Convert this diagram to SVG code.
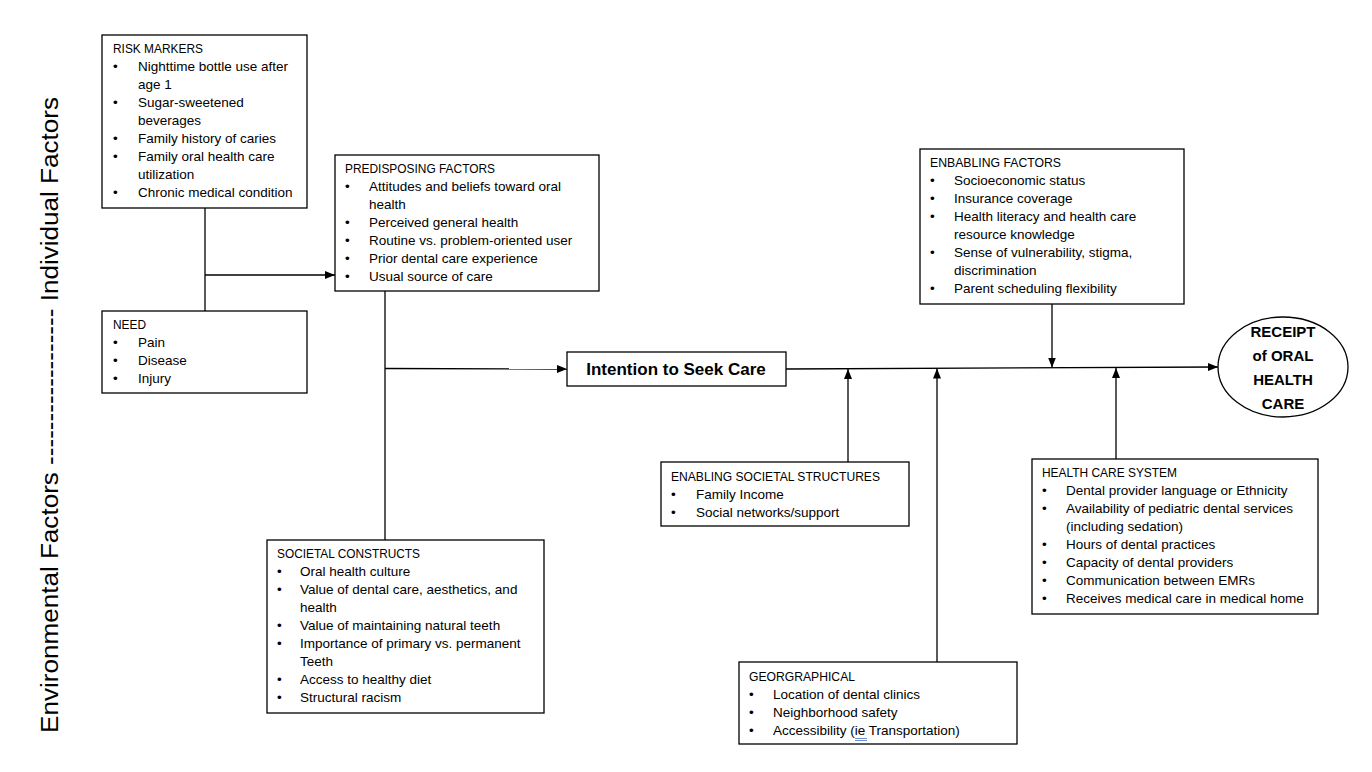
<svg xmlns="http://www.w3.org/2000/svg" width="1372" height="772" viewBox="0 0 1372 772">
<style>
.box{fill:#fff;stroke:#000;stroke-width:1.3}
.t{font-family:"Liberation Sans",Arial,sans-serif;font-size:13.5px;fill:#000}
.b{font-family:"Liberation Sans",Arial,sans-serif;font-weight:bold;fill:#000}
.ln{stroke:#000;stroke-width:1.3;fill:none}
</style>
<defs>
<marker id="ah" markerWidth="10" markerHeight="8" refX="10" refY="4" orient="auto" markerUnits="userSpaceOnUse">
<path d="M0,0 L10,4 L0,8 Z" fill="#000"/>
</marker>
</defs>
<rect width="1372" height="772" fill="#fff"/>

<g id="side-label">
<text transform="translate(58,733) rotate(-90)" font-family="'Liberation Sans',Arial,sans-serif" font-size="23" textLength="636" lengthAdjust="spacingAndGlyphs">Environmental Factors ------------------ Individual Factors</text>
</g>

<g id="connectors">
<line class="ln" x1="205" y1="208" x2="205" y2="311"/>
<line class="ln" x1="205" y1="275" x2="335" y2="275" marker-end="url(#ah)"/>
<line class="ln" x1="385" y1="291" x2="385" y2="540"/>
<line class="ln" x1="385" y1="368.5" x2="567" y2="369" marker-end="url(#ah)"/>
<line class="ln" x1="786" y1="369" x2="1218" y2="367" marker-end="url(#ah)"/>
<line class="ln" x1="848" y1="462" x2="848" y2="369" marker-end="url(#ah)"/>
<line class="ln" x1="937" y1="662" x2="937" y2="368.5" marker-end="url(#ah)"/>
<line class="ln" x1="1116" y1="459" x2="1116" y2="368" marker-end="url(#ah)"/>
<line class="ln" x1="1052" y1="304" x2="1052" y2="367.5" marker-end="url(#ah)"/>
</g>

<g id="risk-markers">
<rect class="box" x="102" y="35" width="205" height="173"/>
<text class="t" x="113" y="53" textLength="90" lengthAdjust="spacingAndGlyphs">RISK MARKERS</text>
<text class="t" x="113" y="71">•</text><text class="t" x="138" y="71">Nighttime bottle use after</text>
<text class="t" x="138" y="89">age 1</text>
<text class="t" x="113" y="107">•</text><text class="t" x="138" y="107">Sugar-sweetened</text>
<text class="t" x="138" y="125">beverages</text>
<text class="t" x="113" y="143">•</text><text class="t" x="138" y="143">Family history of caries</text>
<text class="t" x="113" y="161">•</text><text class="t" x="138" y="161">Family oral health care</text>
<text class="t" x="138" y="179">utilization</text>
<text class="t" x="113" y="197">•</text><text class="t" x="138" y="197">Chronic medical condition</text>
</g>

<g id="need">
<rect class="box" x="102" y="311" width="205" height="82"/>
<text class="t" x="113" y="329" textLength="33" lengthAdjust="spacingAndGlyphs">NEED</text>
<text class="t" x="113" y="347">•</text><text class="t" x="138" y="347">Pain</text>
<text class="t" x="113" y="365">•</text><text class="t" x="138" y="365">Disease</text>
<text class="t" x="113" y="383">•</text><text class="t" x="138" y="383">Injury</text>
</g>

<g id="predisposing">
<rect class="box" x="335" y="155" width="264" height="136"/>
<text class="t" x="345" y="173" textLength="150" lengthAdjust="spacingAndGlyphs">PREDISPOSING FACTORS</text>
<text class="t" x="345" y="191">•</text><text class="t" x="369" y="191">Attitudes and beliefs toward oral</text>
<text class="t" x="369" y="209">health</text>
<text class="t" x="345" y="227">•</text><text class="t" x="369" y="227">Perceived general health</text>
<text class="t" x="345" y="245">•</text><text class="t" x="369" y="245">Routine vs. problem-oriented user</text>
<text class="t" x="345" y="263">•</text><text class="t" x="369" y="263">Prior dental care experience</text>
<text class="t" x="345" y="281">•</text><text class="t" x="369" y="281">Usual source of care</text>
</g>

<g id="intention">
<rect class="box" x="567" y="352" width="219" height="34"/>
<text class="b" x="676" y="375" font-size="17" text-anchor="middle">Intention to Seek Care</text>
</g>

<g id="enabling-factors">
<rect class="box" x="920" y="149" width="264" height="155"/>
<text class="t" x="930" y="167" textLength="131" lengthAdjust="spacingAndGlyphs">ENBABLING FACTORS</text>
<text class="t" x="930" y="185">•</text><text class="t" x="954" y="185">Socioeconomic status</text>
<text class="t" x="930" y="203">•</text><text class="t" x="954" y="203">Insurance coverage</text>
<text class="t" x="930" y="221">•</text><text class="t" x="954" y="221">Health literacy and health care</text>
<text class="t" x="954" y="239">resource knowledge</text>
<text class="t" x="930" y="257">•</text><text class="t" x="954" y="257">Sense of vulnerability, stigma,</text>
<text class="t" x="954" y="275">discrimination</text>
<text class="t" x="930" y="293">•</text><text class="t" x="954" y="293">Parent scheduling flexibility</text>
</g>

<g id="receipt">
<ellipse cx="1283" cy="367" rx="65" ry="50" fill="#fff" stroke="#000" stroke-width="1.3"/>
<text class="b" font-size="15" text-anchor="middle" x="1283" y="337">RECEIPT</text>
<text class="b" font-size="15" text-anchor="middle" x="1283" y="361">of ORAL</text>
<text class="b" font-size="15" text-anchor="middle" x="1283" y="385">HEALTH</text>
<text class="b" font-size="15" text-anchor="middle" x="1283" y="409">CARE</text>
</g>

<g id="enabling-societal">
<rect class="box" x="661" y="462" width="248" height="64"/>
<text class="t" x="671" y="481" textLength="209" lengthAdjust="spacingAndGlyphs">ENABLING SOCIETAL STRUCTURES</text>
<text class="t" x="671" y="499">•</text><text class="t" x="696" y="499">Family Income</text>
<text class="t" x="671" y="517">•</text><text class="t" x="696" y="517">Social networks/support</text>
</g>

<g id="health-care-system">
<rect class="box" x="1032" y="459" width="286" height="155"/>
<text class="t" x="1042" y="477" textLength="135" lengthAdjust="spacingAndGlyphs">HEALTH CARE SYSTEM</text>
<text class="t" x="1042" y="495">•</text><text class="t" x="1066" y="495">Dental provider language or Ethnicity</text>
<text class="t" x="1042" y="513">•</text><text class="t" x="1066" y="513">Availability of pediatric dental services</text>
<text class="t" x="1066" y="531">(including sedation)</text>
<text class="t" x="1042" y="549">•</text><text class="t" x="1066" y="549">Hours of dental practices</text>
<text class="t" x="1042" y="567">•</text><text class="t" x="1066" y="567">Capacity of dental providers</text>
<text class="t" x="1042" y="585">•</text><text class="t" x="1066" y="585">Communication between EMRs</text>
<text class="t" x="1042" y="603">•</text><text class="t" x="1066" y="603">Receives medical care in medical home</text>
</g>

<g id="societal-constructs">
<rect class="box" x="267" y="540" width="277" height="173"/>
<text class="t" x="277" y="558" textLength="143" lengthAdjust="spacingAndGlyphs">SOCIETAL CONSTRUCTS</text>
<text class="t" x="277" y="576">•</text><text class="t" x="300" y="576">Oral health culture</text>
<text class="t" x="277" y="594">•</text><text class="t" x="300" y="594">Value of dental care, aesthetics, and</text>
<text class="t" x="300" y="612">health</text>
<text class="t" x="277" y="630">•</text><text class="t" x="300" y="630">Value of maintaining natural teeth</text>
<text class="t" x="277" y="648">•</text><text class="t" x="300" y="648">Importance of primary vs. permanent</text>
<text class="t" x="300" y="666">Teeth</text>
<text class="t" x="277" y="684">•</text><text class="t" x="300" y="684">Access to healthy diet</text>
<text class="t" x="277" y="702">•</text><text class="t" x="300" y="702">Structural racism</text>
</g>

<g id="geographical">
<rect class="box" x="739" y="662" width="278" height="82"/>
<text class="t" x="749" y="681" textLength="106" lengthAdjust="spacingAndGlyphs">GEORGRAPHICAL</text>
<text class="t" x="749" y="699">•</text><text class="t" x="773" y="699">Location of dental clinics</text>
<text class="t" x="749" y="717">•</text><text class="t" x="773" y="717">Neighborhood safety</text>
<text class="t" x="749" y="735">•</text><text class="t" x="773" y="735">Accessibility (<tspan id="ie">ie</tspan> Transportation)</text>
<line x1="855" y1="738.5" x2="867" y2="738.5" stroke="#4472c4" stroke-width="0.8"/>
<line x1="855" y1="740.5" x2="867" y2="740.5" stroke="#4472c4" stroke-width="0.8"/>
</g>
</svg>
